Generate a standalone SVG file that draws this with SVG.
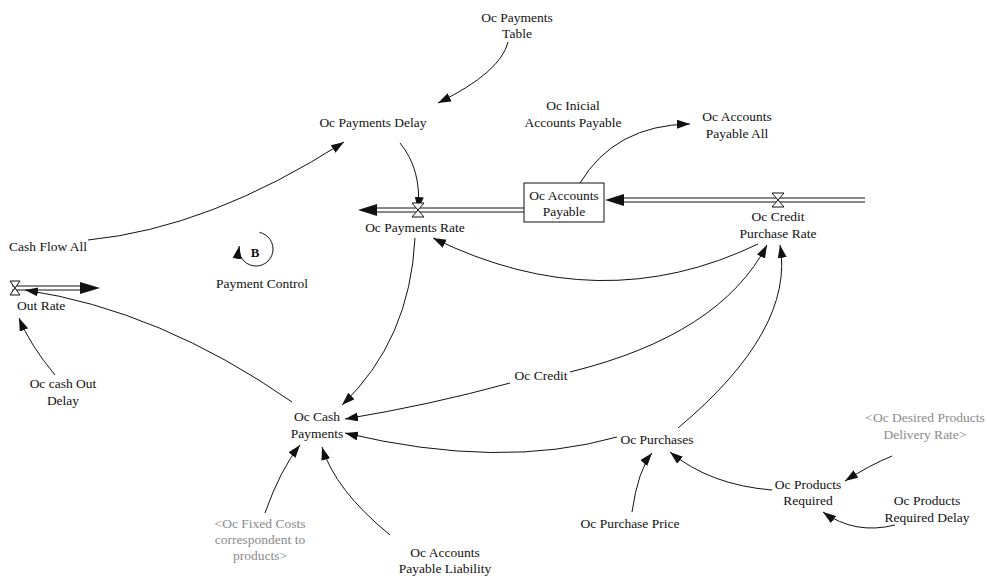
<svg xmlns="http://www.w3.org/2000/svg" width="987" height="576" viewBox="0 0 987 576" font-family="'Liberation Serif', 'Times New Roman', 'DejaVu Serif', serif">
<style>
text{font-family:'Liberation Serif','Times New Roman','DejaVu Serif',serif;font-size:13.5px;fill:#111;text-anchor:middle}
.sh{fill:#8a8a8a}
.lk{fill:none;stroke:#111;stroke-width:1;marker-end:url(#ah)}
.pipe{fill:none;stroke:#111;stroke-width:1}
.head{fill:#111}
.valve{fill:#fff;stroke:#111;stroke-width:1}
</style>
<defs>
<marker id="ah" markerUnits="userSpaceOnUse" markerWidth="14" markerHeight="10" refX="13" refY="4.5" orient="auto">
<path d="M0,0 L13,4.5 L0,9 z" fill="#111"/>
</marker>
</defs>
<rect width="987" height="576" fill="#fff"/>
<g id="connectors">
<path class="lk" d="M508,42 Q501,72 438,103"/>
<path class="lk" d="M400,143 Q422,170 418,210"/>
<path class="lk" d="M88,240 Q210,228 344,142"/>
<path class="lk" d="M580,183 Q615,125 690,124"/>
<path class="lk" d="M758,244 Q600,320 433,238"/>
<path class="lk" d="M415,238 Q410,340 342,405"/>
<path class="lk" d="M510,383 Q430,405 345,419"/>
<path class="lk" d="M617,437 Q500,470 345,433"/>
<path class="lk" d="M570,372 Q720,335 767,245"/>
<path class="lk" d="M678,428 Q795,330 780,245"/>
<path class="lk" d="M632,512 Q638,470 652,453"/>
<path class="lk" d="M772,490 Q710,485 670,452"/>
<path class="lk" d="M892,456 Q870,465 845,481"/>
<path class="lk" d="M895,525 Q855,535 823,512"/>
<path class="lk" d="M265,513 Q280,470 300,445"/>
<path class="lk" d="M390,535 Q335,490 322,447"/>
<path class="lk" d="M292,402 Q160,310 25,290"/>
<path class="lk" d="M55,375 Q30,345 19,318"/>
</g>
<g id="flow-payments-rate">
<path class="pipe" d="M524,208 L376,208 M524,212 L376,212"/>
<polygon class="head" points="358,210 377,204 377,216"/>
<path class="valve" d="M412,203 L424,203 L412,217 L424,217 Z"/>
<text x="415" y="231.5">Oc Payments Rate</text>
</g>
<g id="flow-credit-purchase-rate">
<path class="pipe" d="M865,198 L622,198 M865,202 L622,202"/>
<polygon class="head" points="605,200 624,194 624,206"/>
<path class="valve" d="M772,193 L784,193 L772,207 L784,207 Z"/>
<text x="778" y="220.5">Oc Credit</text>
<text x="778" y="237.5">Purchase Rate</text>
</g>
<g id="flow-out-rate">
<path class="pipe" d="M12,286 L82,286 M12,290 L82,290"/>
<polygon class="head" points="100,288 80,282 80,294"/>
<path class="valve" d="M10,281 L20,281 L10,295 L20,295 Z"/>
<text x="17" y="309.5" style="text-anchor:start">Out Rate</text>
</g>
<g id="stock-accounts-payable">
<rect x="524" y="183" width="80" height="39" fill="#fff" stroke="#111" stroke-width="1"/>
<text x="564" y="199.5">Oc Accounts</text>
<text x="564" y="215.5">Payable</text>
</g>
<g id="payments-table"><text x="517" y="21.5">Oc Payments</text><text x="517" y="37.5">Table</text></g>
<g id="payments-delay"><text x="373" y="126.5">Oc Payments Delay</text></g>
<g id="inicial-accounts-payable"><text x="573" y="109.5">Oc Inicial</text><text x="573" y="126.5">Accounts Payable</text></g>
<g id="accounts-payable-all"><text x="737" y="120.5">Oc Accounts</text><text x="737" y="137.5">Payable All</text></g>
<g id="cash-flow-all"><text x="9" y="251" style="text-anchor:start">Cash Flow All</text></g>
<g id="loop-b">
<path d="M259.5,232.4 A17,17 0 1 1 239.3,246" fill="none" stroke="#111" stroke-width="1" marker-end="url(#ah)"/>
<text x="255" y="256.5" style="font-weight:bold;font-size:13px">B</text>
<text x="262" y="287.5">Payment Control</text>
</g>
<g id="cash-out-delay"><text x="63" y="387.5">Oc cash Out</text><text x="63" y="404.5">Delay</text></g>
<g id="cash-payments"><text x="317" y="420.5">Oc Cash</text><text x="317" y="437.5">Payments</text></g>
<g id="credit"><text x="541" y="379.5">Oc Credit</text></g>
<g id="purchases"><text x="657" y="443.5">Oc Purchases</text></g>
<g id="fixed-costs"><text class="sh" x="260" y="527.5">&lt;Oc Fixed Costs</text><text class="sh" x="260" y="543.5">correspondent to</text><text class="sh" x="260" y="559.5">products&gt;</text></g>
<g id="accounts-payable-liability"><text x="445" y="556.5">Oc Accounts</text><text x="445" y="572.5">Payable Liability</text></g>
<g id="purchase-price"><text x="630" y="527.5">Oc Purchase Price</text></g>
<g id="products-required"><text x="808" y="488.5">Oc Products</text><text x="808" y="504.5">Required</text></g>
<g id="desired-delivery-rate"><text class="sh" x="925" y="421.5">&lt;Oc Desired Products</text><text class="sh" x="925" y="438.5">Delivery Rate&gt;</text></g>
<g id="products-required-delay"><text x="927" y="504.5">Oc Products</text><text x="927" y="521.5">Required Delay</text></g>
</svg>
